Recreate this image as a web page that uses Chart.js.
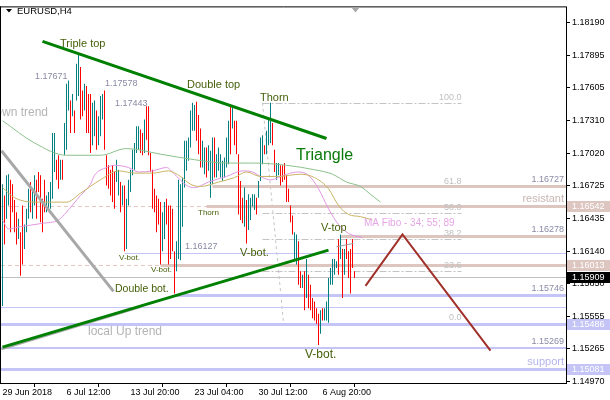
<!DOCTYPE html>
<html>
<head>
<meta charset="utf-8">
<script src="https://cdn.jsdelivr.net/npm/chart.js@4/dist/chart.umd.min.js"></script>
<style>
	html, body { margin: 0; padding: 0; background: #fff; }
	canvas { display: block; }
</style>
</head>
<body>
<canvas id="chart" width="610" height="400"></canvas>
<script>
// EURUSD H4, one entry per bar, oldest first
const highs = [
	1.1674, 1.1664, 1.1682, 1.1683, 1.1678, 1.1674, 1.1660, 1.1649, 1.1643, 1.1631,
	1.1655, 1.1638, 1.1652, 1.1670, 1.1676, 1.1670, 1.1682, 1.1678, 1.1685, 1.1682,
	1.1661, 1.1678, 1.1664, 1.1667, 1.1676, 1.1720, 1.1720, 1.1696, 1.1700, 1.1696,
	1.1696, 1.1729, 1.1764, 1.1767, 1.1749, 1.1755, 1.1740, 1.1782, 1.1791, 1.1779,
	1.1758, 1.1764, 1.1762, 1.1755, 1.1755, 1.1747, 1.1749, 1.1740, 1.1735, 1.1753,
	1.1755, 1.1758, 1.1700, 1.1691, 1.1687, 1.1691, 1.1685, 1.1696, 1.1687, 1.1676,
	1.1673, 1.1673, 1.1661, 1.1678, 1.1687, 1.1705, 1.1711, 1.1726, 1.1726, 1.1723,
	1.1720, 1.1732, 1.1744, 1.1744, 1.1702, 1.1687, 1.1670, 1.1664, 1.1661, 1.1658,
	1.1649, 1.1658, 1.1661, 1.1655, 1.1655, 1.1652, 1.1614, 1.1623, 1.1678, 1.1674,
	1.1680, 1.1713, 1.1713, 1.1716, 1.1740, 1.1747, 1.1745, 1.1748, 1.1736, 1.1724,
	1.1713, 1.1707, 1.1707, 1.1709, 1.1704, 1.1716, 1.1716, 1.1701, 1.1707, 1.1701,
	1.1695, 1.1698, 1.1716, 1.1731, 1.1745, 1.1745, 1.1731, 1.1731, 1.1701, 1.1677,
	1.1662, 1.1671, 1.1660, 1.1665, 1.1662, 1.1665, 1.1665, 1.1662, 1.1677, 1.1716,
	1.1718, 1.1709, 1.1722, 1.1733, 1.1747, 1.1729, 1.1705, 1.1693, 1.1693, 1.1691,
	1.1691, 1.1693, 1.1682, 1.1670, 1.1655, 1.1646, 1.1631, 1.1629, 1.1623, 1.1596,
	1.1593, 1.1596, 1.1607, 1.1593, 1.1584, 1.1572, 1.1569, 1.1563, 1.1558, 1.1561,
	1.1563, 1.1563, 1.1569, 1.1590, 1.1599, 1.1607, 1.1607, 1.1605, 1.1625, 1.1629,
	1.1616, 1.1616, 1.1625, 1.1614, 1.1616, 1.1625, 1.1596
];
const lows = [
	1.1565, 1.1620, 1.1643, 1.1655, 1.1631, 1.1649, 1.1631, 1.1620, 1.1625, 1.1592,
	1.1602, 1.1616, 1.1631, 1.1643, 1.1649, 1.1643, 1.1655, 1.1643, 1.1667, 1.1640,
	1.1631, 1.1649, 1.1649, 1.1652, 1.1652, 1.1661, 1.1685, 1.1678, 1.1670, 1.1678,
	1.1678, 1.1700, 1.1705, 1.1740, 1.1720, 1.1735, 1.1720, 1.1749, 1.1753, 1.1732,
	1.1735, 1.1740, 1.1720, 1.1720, 1.1702, 1.1709, 1.1717, 1.1705, 1.1709, 1.1717,
	1.1732, 1.1705, 1.1673, 1.1670, 1.1664, 1.1658, 1.1652, 1.1676, 1.1664, 1.1649,
	1.1655, 1.1614, 1.1616, 1.1655, 1.1667, 1.1682, 1.1687, 1.1702, 1.1705, 1.1702,
	1.1700, 1.1702, 1.1714, 1.1700, 1.1685, 1.1652, 1.1649, 1.1631, 1.1638, 1.1602,
	1.1614, 1.1625, 1.1638, 1.1602, 1.1607, 1.1614, 1.1576, 1.1596, 1.1607, 1.1606,
	1.1636, 1.1671, 1.1686, 1.1695, 1.1707, 1.1722, 1.1722, 1.1713, 1.1701, 1.1689,
	1.1689, 1.1683, 1.1680, 1.1686, 1.1662, 1.1674, 1.1680, 1.1680, 1.1686, 1.1680,
	1.1677, 1.1680, 1.1689, 1.1692, 1.1701, 1.1724, 1.1709, 1.1701, 1.1647, 1.1642,
	1.1639, 1.1636, 1.1621, 1.1633, 1.1642, 1.1654, 1.1651, 1.1647, 1.1662, 1.1677,
	1.1692, 1.1701, 1.1701, 1.1709, 1.1711, 1.1709, 1.1685, 1.1678, 1.1682, 1.1673,
	1.1676, 1.1678, 1.1658, 1.1658, 1.1640, 1.1629, 1.1607, 1.1602, 1.1584, 1.1581,
	1.1581, 1.1561, 1.1572, 1.1563, 1.1561, 1.1554, 1.1552, 1.1549, 1.1530, 1.1540,
	1.1552, 1.1552, 1.1552, 1.1550, 1.1584, 1.1584, 1.1593, 1.1599, 1.1593, 1.1607,
	1.1572, 1.1593, 1.1607, 1.1590, 1.1576, 1.1599, 1.1590
];
// u = bull bar, d = bear bar (ten bars per chunk)
const dirs = [
	'uduuddddud', 'duuuduuddd', 'dduuuuuddu', 'duuududuud', 'duddduuduu',
	'udddddduud', 'uduuuuuuud', 'dudddddddd', 'uuddddduuu', 'uuuuuuuddd',
	'uuduuuduuu', 'uuuududddd', 'duduuuuduu', 'uduuudduud', 'dddddduudd',
	'ududdddddu', 'duuuuuuudu', 'duddddd'
].join( '' ).split( '' );

// moving averages (MA Fibo 34 / 55 / 89), read at bar positions
const ma89X = [0, 16, 32, 49, 62, 79, 96, 112, 126, 142, 156, 165, 172, 179, 184, 189];
const ma89 = [1.1731, 1.1711, 1.1700, 1.1700, 1.1706, 1.1701, 1.1696, 1.1693, 1.1693, 1.1691, 1.1687, 1.1683, 1.1676, 1.1672, 1.1665, 1.1658];
const ma55X = [0, 6, 16, 32, 39, 49, 58, 66, 75, 83, 89, 94, 99, 108, 116, 122, 129, 138, 149, 156, 163, 168, 173, 179, 185];
const ma55 = [1.1671, 1.1662, 1.1658, 1.1658, 1.1666, 1.1678, 1.1686, 1.1684, 1.1684, 1.1686, 1.1681, 1.1674, 1.1672, 1.1676, 1.1680, 1.1685, 1.1681, 1.1681, 1.1683, 1.1680, 1.1670, 1.1655, 1.1647, 1.1645, 1.1642];
const ma34X = [0, 3, 9, 20, 28, 32, 39, 44, 46, 52, 56, 63, 68, 75, 82, 86, 92, 96, 103, 112, 120, 125, 130, 134, 142, 148, 153, 158, 163, 168, 173, 180];
const ma34 = [1.1642, 1.1634, 1.1636, 1.1639, 1.1642, 1.1649, 1.1664, 1.1674, 1.1682, 1.1689, 1.1691, 1.1689, 1.1685, 1.1686, 1.1689, 1.1683, 1.1673, 1.1671, 1.1676, 1.1681, 1.1686, 1.1685, 1.1680, 1.1678, 1.1683, 1.1685, 1.1682, 1.1670, 1.1652, 1.1638, 1.1630, 1.1626];

// drawn trend lines (bar index, price)
const triTopX = [20, 162];
const triTop = [1.1802, 1.1715];
const triBotX = [0, 163];
const triBot = [1.1528, 1.1615];
const downTrendX = [-0.5, 55.5];
const downTrend = [1.1704, 1.1578];
const upTrendX = [-0.5, 69];
const upTrend = [1.1526, 1.1564];
const vTopX = [167, 175.5];
const vTop = [1.1618, 1.1621];
const forecastX = [181.5, 200, 244];
const forecast = [1.1583, 1.1629, 1.1525];

// horizontal levels
const resistLevels = [1.16727, 1.16542, 1.16278, 1.16013];
const resistFrom = [105, 102, 169, 79];
const resistTags = ['1.16727', 'resistant', '1.16278', ''];
const supportLevels = [1.16127, 1.15746, 1.15640, 1.15486, 1.15269, 1.15081];
const supportFrom = [61, 86, -1, -1, -1, -1];
const supportTags = ['', '1.15746', '', '', '1.15269', 'support'];
const dashedLevels = [1.16542, 1.16013];
const lastPrice = 1.15909;
const axisMarks = [1.16542, 1.16013, 1.15909, 1.15486, 1.15081];

// fibonacci retracement
const fiboLow = 1.1550;
const fiboHigh = 1.1747;
const fiboFrom = 130;
const fiboTo = 229.5;
const fiboRatios = [0, 23.6, 38.2, 50, 61.8, 100];

// axes
const yTicks = [1.18190, 1.17895, 1.17605, 1.17310, 1.17020, 1.16725, 1.16435, 1.16140, 1.15850, 1.15555, 1.15265, 1.14970];
const xTicks = [0, 32, 64, 96, 128, 160];
const xLabels = ['29 Jun 2018', '6 Jul 12:00', '13 Jul 20:00', '23 Jul 04:00', '30 Jul 12:00', '6 Aug 20:00'];

const FONT = '"Liberation Sans", Arial, sans-serif';
const OLIVE = '#46600a';
const PINK = '#dcc6bf';
const LAVENDER = '#c4c4f6';

// text notes drawn on the chart: text, bar index, price, size, colour, align
const notes = [
	[ 'Triple top', 28.75, 1.1800, 11, OLIVE, 'left' ],
	[ '1.17671', 16.25, 1.1771, 9, '#8a8aa6', 'left' ],
	[ '1.17578', 51.25, 1.1764, 9, '#8a8aa6', 'left' ],
	[ '1.17443', 56.25, 1.1746, 9, '#8a8aa6', 'left' ],
	[ 'Double top', 92.25, 1.1763, 11, OLIVE, 'left' ],
	[ 'Thorn', 128.75, 1.1751, 11, OLIVE, 'left' ],
	[ 'Triangle', 146.75, 1.1700, 16, '#0a7a0a', 'left' ],
	[ 'Down trend', 22.75, 1.1738, 12, '#b4b4b4', 'right' ],
	[ 'Thorn', 97.75, 1.1648, 8, OLIVE, 'left' ],
	[ 'V-bot.', 58.25, 1.1608, 8, OLIVE, 'left' ],
	[ '1.16127', 91.25, 1.1618, 9, '#8a8aa6', 'left' ],
	[ 'V-bot.', 74.25, 1.1597, 8, OLIVE, 'left' ],
	[ 'V-bot.', 118.75, 1.1612, 11, OLIVE, 'left' ],
	[ 'Double bot.', 56.25, 1.1580, 10.5, OLIVE, 'left' ],
	[ 'local Up trend', 42.75, 1.1542, 12, '#b4b4b4', 'left' ],
	[ 'V-top', 159.25, 1.1635, 11, OLIVE, 'left' ],
	[ 'V-bot.', 151.25, 1.1521, 12, OLIVE, 'left' ],
	[ 'MA Fibo - 34; 55; 89', 180.75, 1.1639, 10, '#e6a6e6', 'left' ]
];

function hLine( ctx, x0, x1, y ) {
	ctx.beginPath();
	ctx.moveTo( x0, y );
	ctx.lineTo( x1, y );
	ctx.stroke();
}

function lineSet( xs, ys, color, width, extra ) {
	return Object.assign( {
		type: 'line',
		data: xs.map( ( x, i ) => ( { x: x, y: ys[ i ] } ) ),
		borderColor: color,
		borderWidth: width,
		pointRadius: 0,
		fill: false,
		tension: 0,
		order: 1
	}, extra || {} );
}

const levelsPlugin = {
	id: 'levels',
	beforeDatasetsDraw: function ( chart ) {
		const { ctx, chartArea: a, scales: { x, y } } = chart;
		const row = ( v ) => Math.round( y.getPixelForValue( v ) );
		ctx.save();
		ctx.beginPath();
		ctx.rect( a.left, a.top, a.right - a.left, a.bottom - a.top );
		ctx.clip();

		// dashed guides from the left edge
		ctx.setLineDash( [ 4, 3 ] );
		ctx.strokeStyle = '#e8c6c2';
		ctx.lineWidth = 1;
		dashedLevels.forEach( ( v ) => hLine( ctx, a.left, a.right, row( v ) + 0.5 ) );

		// current price
		ctx.setLineDash( [] );
		ctx.strokeStyle = '#c0c0c0';
		hLine( ctx, a.left, a.right, row( lastPrice ) + 0.5 );

		// fibo
		ctx.setLineDash( [ 7, 2, 2, 2 ] );
		ctx.strokeStyle = '#c4c4c4';
		const f0 = x.getPixelForValue( fiboFrom );
		const f1 = x.getPixelForValue( fiboTo );
		fiboRatios.forEach( ( r ) => {
			hLine( ctx, f0, f1, row( fiboLow + ( fiboHigh - fiboLow ) * r / 100 ) + 0.5 );
		} );
		ctx.setLineDash( [ 3, 3 ] );
		ctx.beginPath();
		ctx.moveTo( f0, y.getPixelForValue( fiboHigh ) );
		ctx.lineTo( x.getPixelForValue( fiboFrom + 10.5 ), y.getPixelForValue( fiboLow ) );
		ctx.stroke();

		// resistance / support
		ctx.setLineDash( [] );
		ctx.strokeStyle = PINK;
		ctx.lineWidth = 3;
		resistLevels.forEach( ( v, i ) => {
			hLine( ctx, x.getPixelForValue( resistFrom[ i ] ), a.right, row( v ) + 0.5 );
		} );
		const supportWidths = [ 1, 3, 1, 3, 2, 3 ];
		ctx.strokeStyle = LAVENDER;
		supportLevels.forEach( ( v, i ) => {
			const w = supportWidths[ i ];
			ctx.lineWidth = w;
			hLine( ctx, Math.max( a.left, x.getPixelForValue( supportFrom[ i ] ) ), a.right, row( v ) + ( w % 2 ? 0.5 : 0 ) );
		} );
		ctx.restore();
	},

	afterDatasetsDraw: function ( chart ) {
		const { ctx, chartArea: a, scales: { x, y } } = chart;
		ctx.save();
		ctx.textBaseline = 'middle';
		notes.forEach( ( n ) => {
			ctx.font = n[ 3 ] + 'px ' + FONT;
			ctx.fillStyle = n[ 4 ];
			ctx.textAlign = n[ 5 ];
			ctx.fillText( n[ 0 ], x.getPixelForValue( n[ 1 ] ), y.getPixelForValue( n[ 2 ] ) );
		} );

		// labels over the levels, right side
		ctx.textAlign = 'right';
		ctx.textBaseline = 'alphabetic';
		const tag = ( text, v ) => {
			const isWord = /[a-z]/.test( text );
			ctx.font = ( isWord ? 11 : 9 ) + 'px ' + FONT;
			ctx.fillStyle = text === 'support' ? '#b4b4ea' : ( isWord ? '#c8b6b2' : '#8a8aa6' );
			ctx.fillText( text, a.right - 2, y.getPixelForValue( v ) - 4 );
		};
		resistTags.forEach( ( t, i ) => t && tag( t, resistLevels[ i ] ) );
		supportTags.forEach( ( t, i ) => t && tag( t, supportLevels[ i ] ) );

		// fibo labels
		ctx.font = '9px ' + FONT;
		ctx.fillStyle = '#c0c0c0';
		fiboRatios.forEach( ( r ) => {
			const v = fiboLow + ( fiboHigh - fiboLow ) * r / 100;
			ctx.fillText( r.toFixed( 1 ), x.getPixelForValue( fiboTo ), y.getPixelForValue( v ) - 3 );
		} );
		ctx.restore();
	},

	afterDraw: function ( chart ) {
		const { ctx, chartArea: a, scales: { x, y } } = chart;
		ctx.save();
		// frame top and left
		ctx.strokeStyle = '#000';
		ctx.lineWidth = 1;
		hLine( ctx, 0, a.right + 1, a.top - 0.5 );
		ctx.beginPath();
		ctx.moveTo( 0.5, a.top - 1 );
		ctx.lineTo( 0.5, a.bottom + 1 );
		ctx.stroke();

		// price marks on the axis
		const boxColors = [ PINK, PINK, '#000', LAVENDER, LAVENDER ];
		ctx.font = '9px ' + FONT;
		ctx.textBaseline = 'middle';
		ctx.textAlign = 'left';
		axisMarks.forEach( ( v, i ) => {
			const yy = Math.round( y.getPixelForValue( v ) );
			ctx.fillStyle = boxColors[ i ];
			ctx.fillRect( a.right + 1, yy - 5, chart.width - a.right - 1, 11 );
			ctx.fillStyle = '#fff';
			ctx.fillText( v.toFixed( 5 ), a.right + 6, yy + 0.5 );
		} );

		// header
		ctx.fillStyle = '#000';
		ctx.beginPath();
		ctx.moveTo( 6, 9 );
		ctx.lineTo( 12, 9 );
		ctx.lineTo( 9, 12.5 );
		ctx.closePath();
		ctx.fill();
		ctx.font = '9.5px ' + FONT;
		ctx.fillText( 'EURUSD,H4', 17, 11 );

		// chart shift marker
		const sx = x.getPixelForValue( highs.length - 0.5 );
		ctx.fillStyle = '#a8a8a8';
		ctx.beginPath();
		ctx.moveTo( sx - 4, a.top );
		ctx.lineTo( sx + 4, a.top );
		ctx.lineTo( sx, a.top + 5 );
		ctx.closePath();
		ctx.fill();
		ctx.restore();
	}
};

new Chart( document.getElementById( 'chart' ), {
	type: 'bar',
	data: {
		datasets: [
			{
				type: 'bar',
				data: highs.map( ( h, i ) => ( { x: i, y: [ lows[ i ], h ] } ) ),
				backgroundColor: dirs.map( ( d ) => d === 'u' ? '#008080' : '#ff0000' ),
				barThickness: 1,
				inflateAmount: 0,
				borderWidth: 0,
				grouped: false,
				order: 10
			},
			lineSet( ma89X, ma89, '#8cc08c', 1, { cubicInterpolationMode: 'monotone', order: 5 } ),
			lineSet( ma55X, ma55, '#c8b464', 1, { cubicInterpolationMode: 'monotone', order: 5 } ),
			lineSet( ma34X, ma34, '#e096e0', 1, { cubicInterpolationMode: 'monotone', order: 5 } ),
			lineSet( downTrendX, downTrend, '#a8a8a8', 3 ),
			lineSet( upTrendX, upTrend, '#a8a8a8', 2, { order: 2 } ),
			lineSet( triTopX, triTop, '#008000', 3 ),
			lineSet( triBotX, triBot, '#008000', 3 ),
			lineSet( vTopX, vTop, '#a0a0a0', 1 ),
			lineSet( forecastX, forecast, '#a0302a', 2 )
		]
	},
	options: {
		responsive: false,
		devicePixelRatio: 1,
		animation: false,
		layout: { padding: { left: 1, top: 3, right: 0, bottom: 0 } },
		plugins: {
			legend: { display: false },
			tooltip: { enabled: false }
		},
		scales: {
			x: {
				type: 'linear',
				min: -0.75,
				max: 281.75,
				offset: false,
				grid: { drawOnChartArea: false, color: '#000', tickLength: 4 },
				border: { color: '#000' },
				afterBuildTicks: ( scale ) => { scale.ticks = xTicks.map( ( v ) => ( { value: v } ) ); },
				afterFit: ( scale ) => { scale.height = 17; },
				ticks: {
					autoSkip: false,
					maxRotation: 0,
					align: 'start',
					padding: 0,
					color: '#000',
					font: { family: FONT, size: 9 },
					callback: ( v, i ) => xLabels[ i ]
				}
			},
			y: {
				position: 'right',
				min: 1.14959,
				max: 1.18325,
				grid: { drawOnChartArea: false, color: '#000', tickLength: 4 },
				border: { color: '#000' },
				afterBuildTicks: ( scale ) => { scale.ticks = yTicks.map( ( v ) => ( { value: v } ) ); },
				afterFit: ( scale ) => { scale.width = 44; },
				ticks: {
					autoSkip: false,
					padding: 2,
					color: '#000',
					font: { family: FONT, size: 9 },
					callback: ( v ) => v.toFixed( 5 )
				}
			}
		}
	},
	plugins: [ levelsPlugin ]
} );
</script>
</body>
</html>
